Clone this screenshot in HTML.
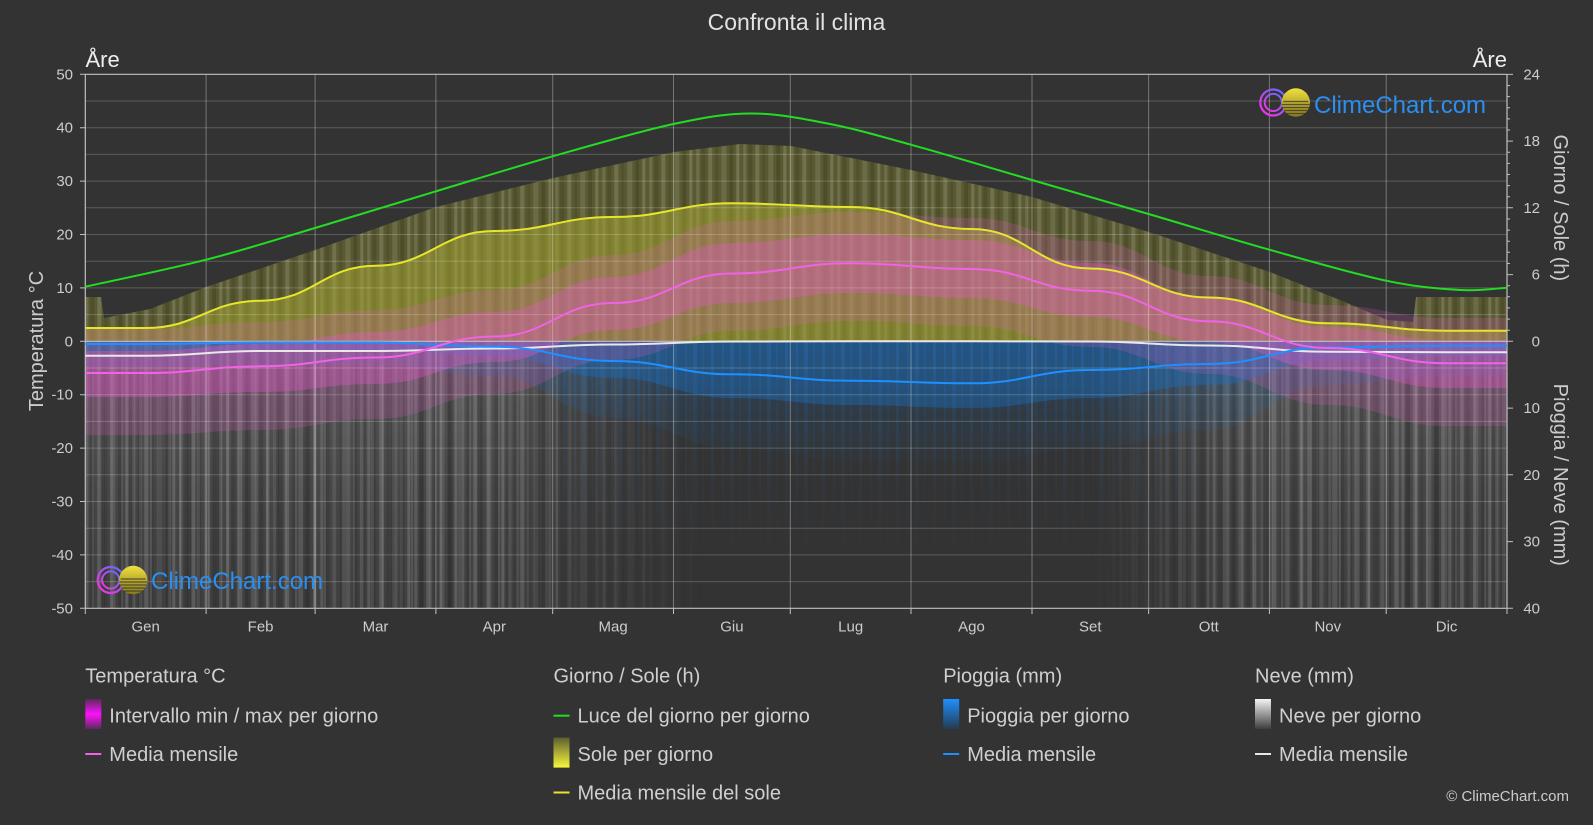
<!DOCTYPE html>
<html><head><meta charset="utf-8"><title>Confronta il clima</title>
<style>
html,body{margin:0;padding:0;background:#333;}
svg{display:block;font-family:"Liberation Sans",Arial,sans-serif;}
</style></head>
<body>
<svg width="1593" height="825" viewBox="0 0 1593 825" xmlns="http://www.w3.org/2000/svg">
<defs>
  <linearGradient id="snowV" x1="0" y1="341.3" x2="0" y2="608.3" gradientUnits="userSpaceOnUse">
    <stop offset="0" stop-color="#b0b0b0" stop-opacity="0.32"/>
    <stop offset="0.3" stop-color="#a8a8a8" stop-opacity="0.24"/>
    <stop offset="0.65" stop-color="#a0a0a0" stop-opacity="0.16"/>
    <stop offset="1" stop-color="#a0a0a0" stop-opacity="0.12"/>
  </linearGradient>
  <linearGradient id="snowH" x1="85.3" y1="0" x2="1507" y2="0" gradientUnits="userSpaceOnUse">
    <stop offset="0" stop-color="#fff"/>
    <stop offset="0.3008" stop-color="#fff"/>
    <stop offset="0.329" stop-color="#999"/>
    <stop offset="0.369" stop-color="#595959"/>
    <stop offset="0.404" stop-color="#262626"/>
    <stop offset="0.436" stop-color="#000"/>
    <stop offset="0.7067" stop-color="#000"/>
    <stop offset="0.7419" stop-color="#404040"/>
    <stop offset="0.777" stop-color="#999"/>
    <stop offset="0.812" stop-color="#e6e6e6"/>
    <stop offset="0.837" stop-color="#fff"/>
    <stop offset="1" stop-color="#fff"/>
  </linearGradient>
  <mask id="snowMask" maskUnits="userSpaceOnUse" x="0" y="0" width="1593" height="825">
    <rect x="85.3" y="341.3" width="1421.7" height="267" fill="url(#snowH)"/>
  </mask>
  <linearGradient id="blueFade" x1="0" y1="341.3" x2="0" y2="560" gradientUnits="userSpaceOnUse">
    <stop offset="0" stop-color="#fff"/>
    <stop offset="0.3" stop-color="#777"/>
    <stop offset="1" stop-color="#000"/>
  </linearGradient>
  <linearGradient id="rainSparse" x1="0" y1="341.3" x2="0" y2="470" gradientUnits="userSpaceOnUse">
    <stop offset="0" stop-color="#1a6ec0" stop-opacity="0.28"/>
    <stop offset="0.5" stop-color="#1a6ec0" stop-opacity="0.14"/>
    <stop offset="1" stop-color="#1a6ec0" stop-opacity="0.02"/>
  </linearGradient>
  <mask id="blueMask" maskUnits="userSpaceOnUse" x="0" y="0" width="1593" height="825">
    <rect x="560" y="341.3" width="640" height="220" fill="url(#blueFade)"/>
  </mask>
  <pattern id="stA" x="85.3" y="0" width="47" height="10" patternUnits="userSpaceOnUse">
    <rect x="0" y="0" width="3" height="10" fill="#fff" fill-opacity=".12"/>
    <rect x="5" y="0" width="4" height="10" fill="#000" fill-opacity=".12"/>
    <rect x="12" y="0" width="4" height="10" fill="#fff" fill-opacity=".14"/>
    <rect x="19" y="0" width="3" height="10" fill="#000" fill-opacity=".10"/>
    <rect x="25" y="0" width="5" height="10" fill="#fff" fill-opacity=".10"/>
    <rect x="33" y="0" width="4" height="10" fill="#000" fill-opacity=".14"/>
    <rect x="40" y="0" width="3" height="10" fill="#fff" fill-opacity=".15"/>
  </pattern>
  <pattern id="stB" x="90" y="0" width="29" height="10" patternUnits="userSpaceOnUse">
    <rect x="2" y="0" width="2" height="10" fill="#fff" fill-opacity=".10"/>
    <rect x="10" y="0" width="5" height="10" fill="#000" fill-opacity=".10"/>
    <rect x="20" y="0" width="3" height="10" fill="#fff" fill-opacity=".08"/>
  </pattern>
  <pattern id="stBlue" x="560" y="0" width="37" height="10" patternUnits="userSpaceOnUse">
    <rect x="3" y="0" width="3" height="10" fill="#2a78c0" fill-opacity=".3"/>
    <rect x="14" y="0" width="2" height="10" fill="#2a78c0" fill-opacity=".25"/>
    <rect x="22" y="0" width="4" height="10" fill="#2a78c0" fill-opacity=".3"/>
    <rect x="31" y="0" width="2" height="10" fill="#2a78c0" fill-opacity=".2"/>
  </pattern>
  <clipPath id="sunClip">
    <path d="M85.3,341.3 L85.3,297 L101,297 L104,318 L150,309 L206,287 L315,250 L436,207 L553,178 L674,152 L740,144 L791,146 L911,170 L1032,197 L1149,232 L1270,272 L1340,300 L1387,320 L1413,322 L1416,297 L1507,297 L1507,341.3 Z"/>
  </clipPath>
  <linearGradient id="gTemp" x1="0" y1="0" x2="0" y2="1">
    <stop offset="0" stop-color="#5a2a5a"/>
    <stop offset="0.5" stop-color="#ff10ff"/>
    <stop offset="1" stop-color="#5a2a5a"/>
  </linearGradient>
  <linearGradient id="gSun" x1="0" y1="0" x2="0" y2="1">
    <stop offset="0" stop-color="#5e5e32"/>
    <stop offset="1" stop-color="#f8f83a"/>
  </linearGradient>
  <linearGradient id="gRain" x1="0" y1="0" x2="0" y2="1">
    <stop offset="0" stop-color="#1e90ff"/>
    <stop offset="1" stop-color="#253a50"/>
  </linearGradient>
  <linearGradient id="gSnow" x1="0" y1="0" x2="0" y2="1">
    <stop offset="0" stop-color="#f4f4f4"/>
    <stop offset="1" stop-color="#3e3e3e"/>
  </linearGradient>
  <linearGradient id="ringG" x1="0" y1="1" x2="1" y2="0">
    <stop offset="0" stop-color="#ff30e0"/>
    <stop offset="1" stop-color="#5a6cff"/>
  </linearGradient>
  <linearGradient id="sunG" x1="0" y1="0" x2="0" y2="1">
    <stop offset="0" stop-color="#f0e040"/>
    <stop offset="1" stop-color="#8a7a1a"/>
  </linearGradient>
  <g id="logoIcon">
    <circle cx="0" cy="0" r="13" fill="none" stroke="url(#ringG)" stroke-width="2.2"/>
    <circle cx="0" cy="0" r="8.6" fill="none" stroke="url(#ringG)" stroke-width="2"/>
    <circle cx="22.5" cy="0" r="14.2" fill="url(#sunG)"/>
    <g stroke="#333" stroke-opacity="0.75" stroke-width="1.2">
      <line x1="8.6" y1="2" x2="36.4" y2="2"/>
      <line x1="9.4" y1="5" x2="35.6" y2="5"/>
      <line x1="10.8" y1="8" x2="34.2" y2="8"/>
      <line x1="13.5" y1="11" x2="31.5" y2="11"/>
      <line x1="10" y1="-1" x2="35" y2="-1"/>
    </g>
  </g>
</defs>

<rect x="0" y="0" width="1593" height="825" fill="#333"/>

<!-- SNOW (gray bars region) -->
<g mask="url(#snowMask)">
  <rect x="85.3" y="341.3" width="1421.7" height="267" fill="url(#snowV)"/>
  <rect x="85.3" y="341.3" width="1421.7" height="267" fill="url(#stA)"/>
  <rect x="85.3" y="341.3" width="1421.7" height="267" fill="url(#stB)"/>
</g>

<!-- RAIN -->
<path fill="url(#rainSparse)" d="M85.3,341.3 L1507,341.3 L1507,376 L1446.6,376 C1393.1,376 1381.3,385 1327.8,385 C1274.3,385 1262.3,430 1208.8,430 C1155.3,430 1143.8,448 1090.3,448 C1036.8,448 1025,463 971.5,463 C918,463 904.2,460 850.7,460 C797.2,460 785.4,448 731.9,448 C678.4,448 666.6,418 613.1,418 C559.6,418 547.8,376 494.3,376 C440.8,376 429,365 375.5,365 C323.5,365 312.6,365 260.6,365 C208.6,365 197.7,367 145.7,367 L85.3,367 Z"/>
<path fill="#1a6ec0" fill-opacity="0.4" d="M85.3,341.3 L1507,341.3 L1507,356 L1446.6,356 C1393.1,356 1381.3,360 1327.8,360 C1274.3,360 1262.3,385 1208.8,385 C1155.3,385 1143.8,398 1090.3,398 C1036.8,398 1025,408 971.5,408 C918,408 904.2,405 850.7,405 C797.2,405 785.4,398 731.9,398 C678.4,398 666.6,378 613.1,378 C559.6,378 547.8,356 494.3,356 C440.8,356 429,350 375.5,350 C323.5,350 312.6,350 260.6,350 C208.6,350 197.7,352 145.7,352 L85.3,352 Z"/>
<g mask="url(#blueMask)">
  <rect x="560" y="341.3" width="640" height="220" fill="url(#stBlue)"/>
</g>

<!-- SUN -->
<path fill="#aaaa32" fill-opacity="0.33" d="M85.3,341.3 L85.3,297 L101,297 L104,318 L150,309 L206,287 L315,250 L436,207 L553,178 L674,152 L740,144 L791,146 L911,170 L1032,197 L1149,232 L1270,272 L1340,300 L1387,320 L1413,322 L1416,297 L1507,297 L1507,341.3 Z"/>
<g clip-path="url(#sunClip)">
  <rect x="85.3" y="74" width="1421.7" height="268" fill="url(#stA)"/>
</g>
<path fill="#aaaa32" fill-opacity="0.5" d="M85.3,328 L145.7,328 C197.7,328 208.6,300.7 260.6,300.7 C312.6,300.7 323.5,265.7 375.5,265.7 C429,265.7 440.8,231 494.3,231 C547.8,231 559.6,217 613.1,217 C666.6,217 678.4,203.3 731.9,203.3 C785.4,203.3 797.2,207 850.7,207 C904.2,207 918,229 971.5,229 C1025,229 1036.8,268.5 1090.3,268.5 C1143.8,268.5 1155.3,297.5 1208.8,297.5 C1262.3,297.5 1274.3,323.3 1327.8,323.3 C1381.3,323.3 1393.1,330.7 1446.6,330.7 L1507,330.7 L1507,341.3 L85.3,341.3 Z"/>

<!-- TEMPERATURE RANGE -->
<path fill="#e658c8" fill-opacity="0.2" d="M85.3,329 L145.7,329 C197.7,329 208.6,322 260.6,322 C312.6,322 323.5,310 375.5,310 C429,310 440.8,290 494.3,290 C547.8,290 559.6,255 613.1,255 C666.6,255 678.4,221 731.9,221 C785.4,221 797.2,212 850.7,212 C904.2,212 918,218 971.5,218 C1025,218 1036.8,241 1090.3,241 C1143.8,241 1155.3,276 1208.8,276 C1262.3,276 1274.3,305 1327.8,305 C1381.3,305 1393.1,318 1446.6,318 L1507,318 L1507,426 L1446.6,426 C1393.1,426 1381.3,405 1327.8,405 C1274.3,405 1262.3,374 1208.8,374 C1155.3,374 1143.8,347 1090.3,347 C1036.8,347 1025,326 971.5,326 C918,326 904.2,321 850.7,321 C797.2,321 785.4,331 731.9,331 C678.4,331 666.6,360 613.1,360 C559.6,360 547.8,394 494.3,394 C440.8,394 429,419 375.5,419 C323.5,419 312.6,430 260.6,430 C208.6,430 197.7,435 145.7,435 L85.3,435 Z"/>
<path fill="#e658c8" fill-opacity="0.35" d="M85.3,351 L145.7,351 C197.7,351 208.6,344 260.6,344 C312.6,344 323.5,332 375.5,332 C429,332 440.8,312 494.3,312 C547.8,312 559.6,277 613.1,277 C666.6,277 678.4,243 731.9,243 C785.4,243 797.2,234 850.7,234 C904.2,234 918,240 971.5,240 C1025,240 1036.8,263 1090.3,263 C1143.8,263 1155.3,298 1208.8,298 C1262.3,298 1274.3,327 1327.8,327 C1381.3,327 1393.1,340 1446.6,340 L1507,340 L1507,388 L1446.6,388 C1393.1,388 1381.3,370 1327.8,370 C1274.3,370 1262.3,342 1208.8,342 C1155.3,342 1143.8,317 1090.3,317 C1036.8,317 1025,298 971.5,298 C918,298 904.2,293 850.7,293 C797.2,293 785.4,303 731.9,303 C678.4,303 666.6,330 613.1,330 C559.6,330 547.8,362 494.3,362 C440.8,362 429,384 375.5,384 C323.5,384 312.6,392 260.6,392 C208.6,392 197.7,397 145.7,397 L85.3,397 Z"/>

<!-- GRID -->
<g stroke="#fff" stroke-opacity="0.2" stroke-width="1">
  <line x1="85.3" y1="101" x2="1507" y2="101"/>
  <line x1="85.3" y1="127.7" x2="1507" y2="127.7"/>
  <line x1="85.3" y1="154.4" x2="1507" y2="154.4"/>
  <line x1="85.3" y1="181.1" x2="1507" y2="181.1"/>
  <line x1="85.3" y1="207.8" x2="1507" y2="207.8"/>
  <line x1="85.3" y1="234.5" x2="1507" y2="234.5"/>
  <line x1="85.3" y1="261.2" x2="1507" y2="261.2"/>
  <line x1="85.3" y1="287.9" x2="1507" y2="287.9"/>
  <line x1="85.3" y1="314.6" x2="1507" y2="314.6"/>
  <line x1="85.3" y1="368" x2="1507" y2="368"/>
  <line x1="85.3" y1="394.7" x2="1507" y2="394.7"/>
  <line x1="85.3" y1="421.4" x2="1507" y2="421.4"/>
  <line x1="85.3" y1="448.1" x2="1507" y2="448.1"/>
  <line x1="85.3" y1="474.8" x2="1507" y2="474.8"/>
  <line x1="85.3" y1="501.5" x2="1507" y2="501.5"/>
  <line x1="85.3" y1="528.2" x2="1507" y2="528.2"/>
  <line x1="85.3" y1="554.9" x2="1507" y2="554.9"/>
  <line x1="85.3" y1="581.6" x2="1507" y2="581.6"/>
</g>
<g stroke="#fff" stroke-opacity="0.33" stroke-width="1">
  <line x1="206.1" y1="74.3" x2="206.1" y2="608.3"/>
  <line x1="315.1" y1="74.3" x2="315.1" y2="608.3"/>
  <line x1="435.9" y1="74.3" x2="435.9" y2="608.3"/>
  <line x1="552.7" y1="74.3" x2="552.7" y2="608.3"/>
  <line x1="673.5" y1="74.3" x2="673.5" y2="608.3"/>
  <line x1="790.3" y1="74.3" x2="790.3" y2="608.3"/>
  <line x1="911" y1="74.3" x2="911" y2="608.3"/>
  <line x1="1032" y1="74.3" x2="1032" y2="608.3"/>
  <line x1="1148.6" y1="74.3" x2="1148.6" y2="608.3"/>
  <line x1="1269.4" y1="74.3" x2="1269.4" y2="608.3"/>
  <line x1="1386.2" y1="74.3" x2="1386.2" y2="608.3"/>
</g>

<!-- frame / zero line -->
<g stroke="#c0c0c0" stroke-width="1.2" fill="none">
  <line x1="85.3" y1="74.3" x2="1507" y2="74.3"/>
  <line x1="85.3" y1="608.3" x2="1507" y2="608.3"/>
  <line x1="85.3" y1="74.3" x2="85.3" y2="608.3"/>
  <line x1="1507" y1="74.3" x2="1507" y2="608.3"/>
  <line x1="85.3" y1="341.3" x2="1507" y2="341.3"/>
</g>
<!-- ticks -->
<path stroke="#c0c0c0" stroke-width="1" fill="none" d="
M80,74.3H85.3 M80,127.7H85.3 M80,181.1H85.3 M80,234.5H85.3 M80,287.9H85.3 M80,341.3H85.3 M80,394.7H85.3 M80,448.1H85.3 M80,501.5H85.3 M80,554.9H85.3 M80,608.3H85.3
M1507,74.4H1513 M1507,85.5H1510 M1507,96.6H1510 M1507,107.8H1510 M1507,118.9H1510 M1507,130H1510 M1507,141.1H1513 M1507,152.2H1510 M1507,163.4H1510 M1507,174.5H1510 M1507,185.6H1510 M1507,196.7H1510 M1507,207.8H1513 M1507,219H1510 M1507,230.1H1510 M1507,241.2H1510 M1507,252.3H1510 M1507,263.5H1510 M1507,274.6H1513 M1507,285.7H1510 M1507,296.8H1510 M1507,307.9H1510 M1507,319.1H1510 M1507,330.2H1510 M1507,341.3H1513
M1507,408.1H1513 M1507,474.8H1513 M1507,541.6H1513 M1507,608.3H1513
M85.3,608.3V614 M206.1,608.3V614 M315.1,608.3V614 M435.9,608.3V614 M552.7,608.3V614 M673.5,608.3V614 M790.3,608.3V614 M911,608.3V614 M1032,608.3V614 M1148.6,608.3V614 M1269.4,608.3V614 M1386.2,608.3V614 M1507,608.3V614"/>

<!-- LINES -->
<path fill="none" stroke="#e8e8e8" stroke-width="2" d="M85.3,355.7 L145.7,355.7 C197.7,355.7 208.6,351 260.6,351 C312.6,351 323.5,351 375.5,351 C429,351 440.8,348.5 494.3,348.5 C547.8,348.5 559.6,344.5 613.1,344.5 C666.6,344.5 678.4,341.5 731.9,341.5 C785.4,341.5 797.2,341.3 850.7,341.3 C904.2,341.3 918,341.3 971.5,341.3 C1025,341.3 1036.8,341.5 1090.3,341.5 C1143.8,341.5 1155.3,345.5 1208.8,345.5 C1262.3,345.5 1274.3,351.7 1327.8,351.7 C1381.3,351.7 1393.1,352.3 1446.6,352.3 L1507,352.3"/>
<path fill="none" stroke="#1e90ff" stroke-width="2" d="M85.3,344 L145.7,344 C197.7,344 208.6,342.5 260.6,342.5 C312.6,342.5 323.5,342.5 375.5,342.5 C429,342.5 440.8,346.7 494.3,346.7 C547.8,346.7 559.6,361 613.1,361 C666.6,361 678.4,374.3 731.9,374.3 C785.4,374.3 797.2,380.7 850.7,380.7 C904.2,380.7 918,383.3 971.5,383.3 C1025,383.3 1036.8,370 1090.3,370 C1143.8,370 1155.3,364 1208.8,364 C1262.3,364 1274.3,347.5 1327.8,347.5 C1381.3,347.5 1393.1,345.7 1446.6,345.7 L1507,345.7"/>
<path fill="none" stroke="#f062e6" stroke-width="2" d="M85.3,373 L145.7,373 C197.7,373 208.6,366.3 260.6,366.3 C312.6,366.3 323.5,357.5 375.5,357.5 C429,357.5 440.8,336.5 494.3,336.5 C547.8,336.5 559.6,303 613.1,303 C666.6,303 678.4,273.5 731.9,273.5 C785.4,273.5 797.2,263.3 850.7,263.3 C904.2,263.3 918,269 971.5,269 C1025,269 1036.8,290.7 1090.3,290.7 C1143.8,290.7 1155.3,321.3 1208.8,321.3 C1262.3,321.3 1274.3,348 1327.8,348 C1381.3,348 1393.1,363.3 1446.6,363.3 L1507,363.3"/>
<path fill="none" stroke="#e6e62a" stroke-width="2" d="M85.3,328 L145.7,328 C197.7,328 208.6,300.7 260.6,300.7 C312.6,300.7 323.5,265.7 375.5,265.7 C429,265.7 440.8,231 494.3,231 C547.8,231 559.6,217 613.1,217 C666.6,217 678.4,203.3 731.9,203.3 C785.4,203.3 797.2,207 850.7,207 C904.2,207 918,229 971.5,229 C1025,229 1036.8,268.5 1090.3,268.5 C1143.8,268.5 1155.3,297.5 1208.8,297.5 C1262.3,297.5 1274.3,323.3 1327.8,323.3 C1381.3,323.3 1393.1,330.7 1446.6,330.7 L1507,330.7"/>
<path fill="none" stroke="#22dd22" stroke-width="2" d="M85.3,286.7 C105.4,282.2 167.8,269.5 206.1,259.7 C244.4,249.9 276.8,239.4 315.1,228 C353.4,216.6 396.3,203.25 435.9,191.3 C475.5,179.35 513.1,167.5 552.7,156.3 C592.3,145.1 640.3,131.1 673.5,124 C706.7,116.9 725.9,113.5 752,113.5 C778.1,113.5 803.5,118.8 830,124 C856.5,129.2 877.3,135.4 911,144.7 C944.7,154 992.4,168.45 1032,180 C1071.6,191.55 1109,202.4 1148.6,214 C1188.2,225.6 1229.8,238.6 1269.4,249.7 C1309,260.8 1354.4,274 1386.2,280.7 C1418,287.4 1439.9,288.8 1460,290 C1480.1,291.2 1499.2,288.1 1507,287.7"/>

<!-- LOGOS -->
<use href="#logoIcon" x="1273.3" y="102.5"/>
<text x="1314" y="113" font-size="24" fill="#2a8ff0">ClimeChart.com</text>
<use href="#logoIcon" x="110.7" y="580"/>
<text x="151" y="589" font-size="24" fill="#2a8ff0">ClimeChart.com</text>

<!-- TEXT -->
<text x="796.5" y="30" font-size="23" fill="#e2e2e2" text-anchor="middle">Confronta il clima</text>
<text x="85.5" y="67" font-size="22" fill="#eeeeee">Åre</text>
<text x="1507" y="67" font-size="22" fill="#eeeeee" text-anchor="end">Åre</text>

<g font-size="15" fill="#cccccc" text-anchor="end">
  <text x="73" y="79.3">50</text>
  <text x="73" y="132.7">40</text>
  <text x="73" y="186.1">30</text>
  <text x="73" y="239.5">20</text>
  <text x="73" y="292.9">10</text>
  <text x="73" y="346.3">0</text>
  <text x="73" y="399.7">-10</text>
  <text x="73" y="453.1">-20</text>
  <text x="73" y="506.5">-30</text>
  <text x="73" y="559.9">-40</text>
  <text x="73" y="613.3">-50</text>
</g>
<g font-size="15" fill="#cccccc" text-anchor="end">
  <text x="1540" y="79.4">24</text>
  <text x="1540" y="146.1">18</text>
  <text x="1540" y="212.8">12</text>
  <text x="1540" y="279.6">6</text>
  <text x="1540" y="346.3">0</text>
  <text x="1540" y="413.1">10</text>
  <text x="1540" y="479.8">20</text>
  <text x="1540" y="546.6">30</text>
  <text x="1540" y="613.3">40</text>
</g>
<g font-size="15" fill="#cccccc" text-anchor="middle">
  <text x="145.7" y="631.5">Gen</text>
  <text x="260.6" y="631.5">Feb</text>
  <text x="375.5" y="631.5">Mar</text>
  <text x="494.3" y="631.5">Apr</text>
  <text x="613.1" y="631.5">Mag</text>
  <text x="731.9" y="631.5">Giu</text>
  <text x="850.7" y="631.5">Lug</text>
  <text x="971.5" y="631.5">Ago</text>
  <text x="1090.3" y="631.5">Set</text>
  <text x="1208.8" y="631.5">Ott</text>
  <text x="1327.8" y="631.5">Nov</text>
  <text x="1446.6" y="631.5">Dic</text>
</g>

<text transform="translate(43,341) rotate(-90)" font-size="20" fill="#cccccc" text-anchor="middle">Temperatura °C</text>
<text transform="translate(1554,207.8) rotate(90)" font-size="20" fill="#cccccc" text-anchor="middle">Giorno / Sole (h)</text>
<text transform="translate(1554,474.8) rotate(90)" font-size="20" fill="#cccccc" text-anchor="middle">Pioggia / Neve (mm)</text>

<!-- LEGEND -->
<g font-size="20" fill="#cfcfcf">
  <text x="85.3" y="682.7">Temperatura °C</text>
  <rect x="85.3" y="699" width="16" height="30" fill="url(#gTemp)"/>
  <text x="109.3" y="722.7">Intervallo min / max per giorno</text>
  <line x1="85.3" y1="754" x2="101.3" y2="754" stroke="#f062e6" stroke-width="2"/>
  <text x="109.3" y="761">Media mensile</text>

  <text x="553.5" y="682.7">Giorno / Sole (h)</text>
  <line x1="553.5" y1="715.7" x2="569.5" y2="715.7" stroke="#22dd22" stroke-width="2"/>
  <text x="577.5" y="722.7">Luce del giorno per giorno</text>
  <rect x="553.5" y="737.6" width="16" height="30" fill="url(#gSun)"/>
  <text x="577.5" y="761">Sole per giorno</text>
  <line x1="553.5" y1="792.5" x2="569.5" y2="792.5" stroke="#e6e62a" stroke-width="2"/>
  <text x="577.5" y="799.4">Media mensile del sole</text>

  <text x="943.2" y="682.7">Pioggia (mm)</text>
  <rect x="943.2" y="699" width="16" height="30" fill="url(#gRain)"/>
  <text x="967.2" y="722.7">Pioggia per giorno</text>
  <line x1="943.2" y1="754" x2="959.2" y2="754" stroke="#1e90ff" stroke-width="2"/>
  <text x="967.2" y="761">Media mensile</text>

  <text x="1255" y="682.7">Neve (mm)</text>
  <rect x="1255" y="699" width="16" height="30" fill="url(#gSnow)"/>
  <text x="1279" y="722.7">Neve per giorno</text>
  <line x1="1255" y1="754" x2="1271" y2="754" stroke="#e8e8e8" stroke-width="2"/>
  <text x="1279" y="761">Media mensile</text>
</g>
<text x="1569" y="801" font-size="15" fill="#cccccc" text-anchor="end">© ClimeChart.com</text>
</svg>
</body></html>
